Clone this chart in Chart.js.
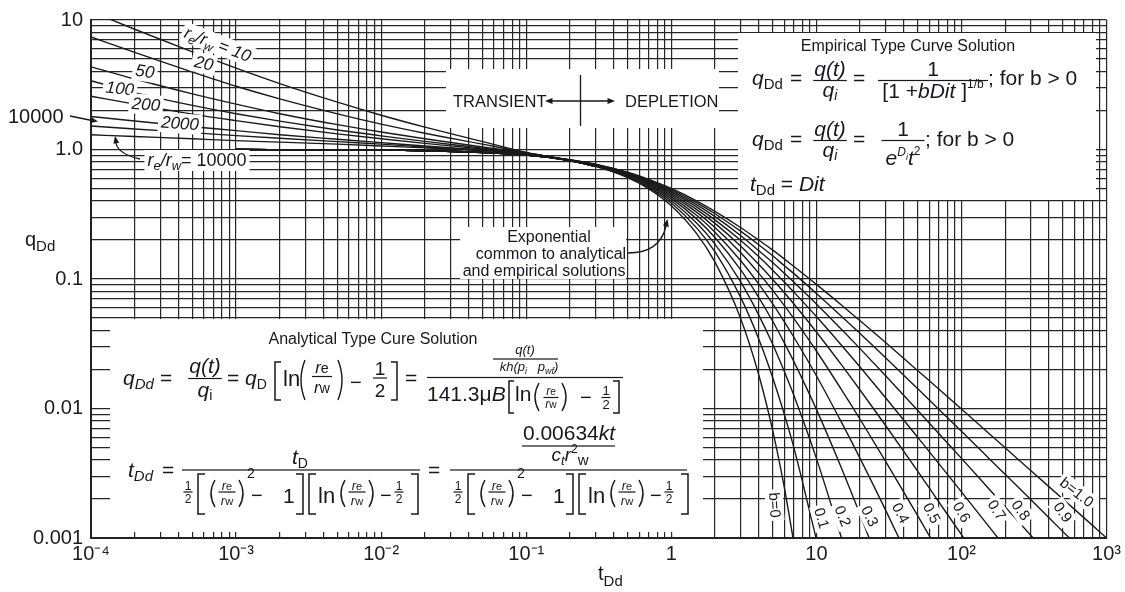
<!DOCTYPE html>
<html>
<head>
<meta charset="utf-8">
<title>Decline type curves</title>
<script src="https://cdn.jsdelivr.net/npm/chart.js@4.4.1/dist/chart.umd.min.js"></script>
<style>
  html, body { margin: 0; padding: 0; background: #fff; }
  canvas { display: block; }
</style>
</head>
<body>
<canvas id="chart" width="1125" height="592"></canvas>
<script>
// ===== AXES =====
const xTickValues = [1e-4, 1e-3, 1e-2, 1e-1, 1, 10, 100, 1000];
const xTickLabels = ["10⁻⁴", "10⁻³", "10⁻²", "10⁻¹", "1", "10", "10²", "10³"];
const yTickValues = [0.001, 0.01, 0.1, 1, 10];
const yTickLabels = ["0.001", "0.01", "0.1", "1.0", "10"];

// ===== ANALYTICAL (TRANSIENT) STEMS — one per re/rw =====
const tTransient = [1e-4, 2e-4, 5e-4, 1e-3, 2e-3, 5e-3, 0.01, 0.02, 0.05, 0.1, 0.2, 0.3];
const qRe10    = [11.65, 8.48, 5.68, 4.25, 3.23, 2.32, 1.84, 1.49, 1.15, 0.95, 0.825, 0.744];
const qRe20    = [7.4, 5.62, 3.96, 3.08, 2.46, 1.885, 1.57, 1.335, 1.10, 0.945, 0.824, 0.744];
const qRe50    = [4.35, 3.5, 2.69, 2.24, 1.89, 1.555, 1.365, 1.21, 1.045, 0.94, 0.823, 0.743];
const qRe100   = [3.40, 2.75, 2.19, 1.89, 1.655, 1.415, 1.275, 1.155, 1.025, 0.935, 0.822, 0.743];
const qRe200   = [2.58, 2.24, 1.875, 1.67, 1.50, 1.32, 1.21, 1.115, 1.01, 0.93, 0.821, 0.742];
const qRe1000  = [1.80, 1.66, 1.50, 1.40, 1.30, 1.20, 1.13, 1.065, 0.99, 0.928, 0.82, 0.742];
const qRe2000  = [1.52, 1.44, 1.35, 1.28, 1.22, 1.15, 1.10, 1.045, 0.985, 0.925, 0.82, 0.742];
const qRe10000 = [1.30, 1.26, 1.21, 1.17, 1.14, 1.10, 1.065, 1.03, 0.98, 0.922, 0.82, 0.742];

// ===== EMPIRICAL STEMS — one per b =====
const tEmpirical = [0.001, 0.01, 0.1, 0.2, 0.3, 0.5, 0.7, 1, 1.5, 2, 3, 4, 5, 6, 7, 10, 15, 20, 30, 50, 70, 100, 150, 200, 300, 500, 700, 1000];
const qB00 = [0.999, 0.990, 0.905, 0.819, 0.741, 0.607, 0.497, 0.368, 0.223, 0.135, 0.0498, 0.0183, 0.00674, 0.00248, 0.000912, null, null, null, null, null, null, null, null, null, null, null, null, null];
const qB01 = [0.999, 0.990, 0.905, 0.820, 0.744, 0.614, 0.508, 0.386, 0.247, 0.162, 0.0725, 0.0346, 0.0173, 0.00909, 0.00496, 0.000977, null, null, null, null, null, null, null, null, null, null, null, null];
const qB02 = [0.999, 0.990, 0.906, 0.822, 0.747, 0.621, 0.519, 0.402, 0.269, 0.186, 0.0954, 0.0529, 0.0313, 0.0194, 0.0126, 0.00412, 0.000977, null, null, null, null, null, null, null, null, null, null, null];
const qB03 = [0.999, 0.990, 0.906, 0.824, 0.750, 0.628, 0.530, 0.417, 0.290, 0.209, 0.118, 0.0722, 0.0472, 0.0323, 0.0230, 0.00984, 0.00340, 0.00152, 0.000464, null, null, null, null, null, null, null, null, null];
const qB04 = [0.999, 0.990, 0.907, 0.825, 0.753, 0.634, 0.540, 0.431, 0.309, 0.230, 0.139, 0.0917, 0.0642, 0.0469, 0.0355, 0.0179, 0.0077, 0.00412, 0.00164, 0.000494, null, null, null, null, null, null, null, null];
const qB05 = [0.999, 0.990, 0.907, 0.826, 0.756, 0.640, 0.549, 0.444, 0.327, 0.250, 0.160, 0.111, 0.0816, 0.0625, 0.0494, 0.0278, 0.0138, 0.00826, 0.00390, 0.00148, 0.000772, null, null, null, null, null, null, null];
const qB06 = [0.999, 0.990, 0.908, 0.828, 0.759, 0.646, 0.557, 0.457, 0.343, 0.269, 0.180, 0.130, 0.0992, 0.0786, 0.0641, 0.0390, 0.0215, 0.0139, 0.00739, 0.00327, 0.00189, 0.00106, 0.00054, null, null, null, null, null];
const qB07 = [0.999, 0.990, 0.908, 0.829, 0.762, 0.651, 0.566, 0.469, 0.359, 0.286, 0.199, 0.149, 0.117, 0.0949, 0.0792, 0.0513, 0.0305, 0.0209, 0.0121, 0.00598, 0.00374, 0.00227, 0.00128, 0.00085, null, null, null, null];
const qB08 = [0.999, 0.990, 0.908, 0.831, 0.764, 0.657, 0.574, 0.480, 0.373, 0.303, 0.217, 0.166, 0.134, 0.111, 0.0945, 0.0642, 0.0405, 0.0290, 0.0179, 0.00964, 0.00638, 0.00412, 0.00249, 0.00174, 0.00105, 0.000557, null, null];
const qB09 = [0.999, 0.990, 0.909, 0.832, 0.767, 0.662, 0.581, 0.490, 0.387, 0.319, 0.234, 0.184, 0.151, 0.127, 0.110, 0.0774, 0.0512, 0.0380, 0.0247, 0.0142, 0.00984, 0.00666, 0.00426, 0.00310, 0.00198, 0.00112, 0.000773, null];
const qB10 = [0.999, 0.990, 0.909, 0.833, 0.769, 0.667, 0.588, 0.500, 0.400, 0.333, 0.250, 0.200, 0.167, 0.143, 0.125, 0.0909, 0.0625, 0.0476, 0.0323, 0.0196, 0.0141, 0.00990, 0.00662, 0.00498, 0.00332, 0.00200, 0.00143, 0.00100];

// ===== STYLE =====
const FONT = "'Liberation Sans', Arial, Helvetica, sans-serif";
const INK  = "#17171f";
const GRID = "#262626";

// white panels that hide the grid (x1, y1, x2, y2 in canvas px)
const panels = [
  [446, 69, 719, 128],    // transient / depletion
  [738, 33, 1096, 200],   // empirical solution
  [110, 319, 703, 532],   // analytical solution
  [460, 227, 626, 279]    // exponential note
];

// ===== HELPERS =====
function gridValues(e0, e1) {
  const out = [];
  for (let e = e0; e < e1; e++) {
    for (let k = 1; k < 10; k++) out.push(+(k * Math.pow(10, e)).toPrecision(3));
  }
  out.push(Math.pow(10, e1));
  return out;
}

function labelFor(v, values, labels) {
  const i = values.findIndex(t => Math.abs(Math.log10(t) - Math.log10(v)) < 1e-6);
  return i >= 0 ? labels[i] : "";
}

function font(ctx, size, italic) {
  ctx.font = `${italic ? "italic " : ""}${size}px ${FONT}`;
}

// parts: [text, size, italic, dy]
function rich(ctx, parts, x, y) {
  for (const [s, size, italic, dy] of parts) {
    font(ctx, size, italic);
    ctx.fillText(s, x, y + (dy || 0));
    x += ctx.measureText(s).width;
  }
  return x;
}

function richWidth(ctx, parts) {
  let w = 0;
  for (const [s, size, italic] of parts) {
    font(ctx, size, italic);
    w += ctx.measureText(s).width;
  }
  return w;
}

function richC(ctx, parts, cx, y) {
  rich(ctx, parts, cx - richWidth(ctx, parts) / 2, y);
}

function frac(ctx, num, den, cx, yBar, up, down, w) {
  richC(ctx, num, cx, yBar - up);
  richC(ctx, den, cx, yBar + down);
  const bw = w || Math.max(richWidth(ctx, num), richWidth(ctx, den)) + 2;
  ctx.fillRect(cx - bw / 2, yBar - 0.6, bw, 1.2);
}

function bracket(ctx, xv, xa, y1, y2) {
  ctx.beginPath();
  ctx.moveTo(xa, y1); ctx.lineTo(xv, y1); ctx.lineTo(xv, y2); ctx.lineTo(xa, y2);
  ctx.lineWidth = 1.5;
  ctx.stroke();
}

function paren(ctx, x, y1, y2, dir) {
  ctx.beginPath();
  ctx.moveTo(x + 5 * dir, y1);
  ctx.quadraticCurveTo(x - 3 * dir, (y1 + y2) / 2, x + 5 * dir, y2);
  ctx.lineWidth = 1.4;
  ctx.stroke();
}

function arrowHead(ctx, x, y, ang, len) {
  len = len || 7;
  ctx.beginPath();
  ctx.moveTo(x, y);
  ctx.lineTo(x - len * Math.cos(ang - 0.38), y - len * Math.sin(ang - 0.38));
  ctx.lineTo(x - len * Math.cos(ang + 0.38), y - len * Math.sin(ang + 0.38));
  ctx.closePath();
  ctx.fill();
}

// label on a white patch, optionally rotated
function tag(ctx, parts, cx, cy, deg) {
  const w = richWidth(ctx, parts);
  const h = Math.max(...parts.map(p => p[1]));
  ctx.save();
  ctx.translate(cx, cy);
  ctx.rotate(deg * Math.PI / 180);
  ctx.fillStyle = "#fff";
  ctx.fillRect(-w / 2 - 3, -h / 2 - 1, w + 6, h + 3);
  ctx.fillStyle = INK;
  rich(ctx, parts, -w / 2, h * 0.35);
  ctx.restore();
}

const RE = s => [["r", s, true], ["e", s * 0.85, false]];
const RW = s => [["r", s, true], ["w", s * 0.85, false]];

// ½[(re/rw)² − 1][ln(re/rw) − ½]
function denomRow(ctx, x0, base) {
  const m = base - 11;
  frac(ctx, [["1", 12]], [["2", 12]], x0 + 6, m, 2, 11, 9);
  bracket(ctx, x0 + 16, x0 + 23, base - 29, base + 11);
  paren(ctx, x0 + 28, base - 23, base + 4, 1);
  frac(ctx, RE(13), RW(13), x0 + 45, m, 2, 13, 17);
  paren(ctx, x0 + 62, base - 23, base + 4, -1);
  rich(ctx, [["2", 14]], x0 + 65, base - 25);
  rich(ctx, [["−", 20]], x0 + 69, base - 1);
  rich(ctx, [["1", 21]], x0 + 101, base);
  bracket(ctx, x0 + 121, x0 + 114, base - 29, base + 11);
  bracket(ctx, x0 + 127, x0 + 134, base - 29, base + 11);
  rich(ctx, [["ln", 22]], x0 + 136, base);
  paren(ctx, x0 + 158, base - 23, base + 4, 1);
  frac(ctx, RE(13), RW(13), x0 + 175, m, 2, 13, 17);
  paren(ctx, x0 + 192, base - 23, base + 4, -1);
  rich(ctx, [["−", 20]], x0 + 198, base - 1);
  frac(ctx, [["1", 12]], [["2", 12]], x0 + 217, m, 2, 11, 9);
  bracket(ctx, x0 + 236, x0 + 229, base - 29, base + 11);
}

// ===== DECORATION =====
function drawStemLabels(ctx) {
  tag(ctx, [["r", 17, true], ["e", 12, true, 4], ["/r", 17, true], ["w", 12, true, 4], [" = 10", 17, true]], 218, 44, 21);
  tag(ctx, [["20", 17, true]], 204, 63, 12);
  tag(ctx, [["50", 17, true]], 145, 71, 8);
  tag(ctx, [["100", 17, true]], 120, 88, 6);
  tag(ctx, [["200", 17, true]], 146, 104, 5);
  tag(ctx, [["2000", 17, true]], 180, 123, 4);
  tag(ctx, [["r", 18, true], ["e", 13, true, 4], ["/r", 18, true], ["w", 13, true, 4], ["= 10000", 18, false]], 197, 160, 0);

  const bTags = [
    ["b=0", 775, 505, 86], ["0.1", 822, 518, 74], ["0.2", 843, 516, 68], ["0.3", 870, 516, 64],
    ["0.4", 901, 513, 62], ["0.5", 932, 513, 62], ["0.6", 962, 512, 60], ["0.7", 997, 510, 57],
    ["0.8", 1021, 510, 55], ["0.9", 1063, 512, 55], ["b=1.0", 1077, 492, 38]
  ];
  bTags.forEach(([s, x, y, a]) => tag(ctx, [[s, 15, false]], x, y, a));
}

function drawTransientBox(ctx) {
  font(ctx, 16.5);
  ctx.fillText("TRANSIENT", 453, 107);
  ctx.fillText("DEPLETION", 625, 107);
  ctx.lineWidth = 1.3;
  ctx.beginPath();
  ctx.moveTo(580.5, 75); ctx.lineTo(580.5, 126);
  ctx.moveTo(552, 101); ctx.lineTo(608, 101);
  ctx.stroke();
  arrowHead(ctx, 545, 101, Math.PI, 8);
  arrowHead(ctx, 615, 101, 0, 8);
}

function drawEmpiricalBox(ctx) {
  font(ctx, 16);
  ctx.textAlign = "center";
  ctx.fillText("Empirical Type Curve Solution", 908, 51);
  ctx.textAlign = "left";

  const QDD = [["q", 21, true], ["Dd", 15, false, 4]];
  const QI  = [["q", 21, true], ["i", 14, true, 3]];

  rich(ctx, QDD, 752, 85);
  rich(ctx, [["=", 21]], 790, 85);
  frac(ctx, [["q(t)", 21, true]], QI, 830, 80.5, 5, 16);
  rich(ctx, [["=", 21]], 853, 85);
  frac(ctx, [["1", 21]], [["[1 +", 21], ["bDit", 21, true], [" ]", 21], ["1/b", 12, false, -10]], 933, 80.5, 5, 17, 110);
  rich(ctx, [["; for b > 0", 21]], 988, 85);

  rich(ctx, QDD, 752, 146);
  rich(ctx, [["=", 21]], 790, 146);
  frac(ctx, [["q(t)", 21, true]], QI, 830, 140.5, 5, 16);
  rich(ctx, [["=", 21]], 853, 146);
  frac(ctx, [["1", 21]], [["e", 21, true], ["D", 12, true, -9], ["i", 9, true, -5], ["t", 21, true], ["2", 12, false, -10]], 903, 140.5, 5, 24, 43);
  rich(ctx, [["; for b > 0", 21]], 925, 146);

  rich(ctx, [["t", 21, true], ["Dd", 15, false, 4], [" = ", 21], ["Dit", 21, true]], 750, 191);
}

function drawAnalyticalBox(ctx) {
  font(ctx, 16);
  ctx.textAlign = "center";
  ctx.fillText("Analytical Type Cure Solution", 373, 344);
  ctx.textAlign = "left";

  // q_Dd line
  rich(ctx, [["q", 21, true], ["Dd", 15, true, 4]], 123, 385);
  rich(ctx, [["=", 21]], 160, 385);
  frac(ctx, [["q(t)", 21, true]], [["q", 21, true], ["i", 14, false, 3]], 205, 378.5, 6, 18);
  rich(ctx, [["= ", 21], ["q", 21, true], ["D", 14, false, 4]], 227, 385);
  bracket(ctx, 275, 281, 362, 400);
  rich(ctx, [["ln", 22]], 283, 386);
  paren(ctx, 300, 360, 400, 1);
  frac(ctx, RE(17), RW(17), 322, 376.5, 3.5, 16.5, 20);
  paren(ctx, 343, 360, 400, -1);
  rich(ctx, [["−", 20]], 350, 389);
  frac(ctx, [["1", 19]], [["2", 19]], 380, 378, 3, 19, 14);
  bracket(ctx, 397, 391, 362, 400);
  rich(ctx, [["=", 21]], 405, 385);

  richC(ctx, [["q(t)", 13, true]], 525, 354);
  ctx.fillRect(493, 358.4, 65, 1.2);
  richC(ctx, [["kh(p", 13, true], ["i", 9, true, 3], ["   p", 13, true], ["wf", 9, true, 3], [")", 13, true]], 529, 371);
  ctx.fillRect(427, 376.9, 196, 1.2);
  rich(ctx, [["141.3μ", 21], ["B", 21, true]], 427, 401);
  bracket(ctx, 509, 514, 381, 413);
  rich(ctx, [["ln", 21]], 515, 401);
  paren(ctx, 534, 383, 411, 1);
  frac(ctx, RE(12), RW(12), 551, 397.5, 2.5, 10.5, 15);
  paren(ctx, 567, 383, 411, -1);
  rich(ctx, [["−", 20]], 580, 404);
  frac(ctx, [["1", 13]], [["2", 13]], 606, 397.5, 2.5, 11.5, 9);
  bracket(ctx, 619, 613, 381, 413);

  // t_Dd line
  rich(ctx, [["t", 21, true], ["Dd", 15, true, 4]], 128, 477);
  rich(ctx, [["=", 21]], 162, 477);
  richC(ctx, [["t", 21, true], ["D", 14, false, 4]], 300, 464);
  ctx.fillRect(182, 469.4, 238, 1.2);
  denomRow(ctx, 182, 503);
  rich(ctx, [["=", 21]], 428, 477);
  richC(ctx, [["0.00634", 21], ["kt", 21, true]], 569, 440);
  ctx.fillRect(522, 445.4, 93, 1.2);
  richC(ctx, [["c", 19, true], ["t", 13, true, 4], ["r", 19, true], ["2", 12, false, -8], ["w", 15, false, 4]], 570, 461);
  ctx.fillRect(450, 469.4, 237, 1.2);
  denomRow(ctx, 452, 503);
}

function drawNotes(ctx) {
  // exponential note
  font(ctx, 16);
  ctx.textAlign = "center";
  ctx.fillText("Exponential", 549, 242);
  ctx.fillText("common to analytical", 551, 259);
  ctx.fillText("and empirical solutions", 544, 276);
  ctx.textAlign = "left";
  ctx.lineWidth = 1.3;
  ctx.beginPath();
  ctx.moveTo(628, 253);
  ctx.quadraticCurveTo(660, 253, 666, 226);
  ctx.stroke();
  arrowHead(ctx, 667.5, 219, -1.35, 8);

  // re/rw = 10000 pointers
  font(ctx, 20);
  ctx.fillText("10000", 8, 123);
  ctx.beginPath();
  ctx.moveTo(70, 116); ctx.lineTo(92, 120.5);
  ctx.moveTo(140, 159); ctx.quadraticCurveTo(118, 154, 116, 143);
  ctx.stroke();
  arrowHead(ctx, 98, 121.5, 0.2, 8);
  arrowHead(ctx, 115, 136, -1.75, 8);

  // axis titles
  rich(ctx, [["q", 20], ["Dd", 15, false, 5]], 25, 246);
  rich(ctx, [["t", 20], ["Dd", 15, false, 6]], 598, 580);
}

const decor = {
  id: "decor",
  beforeDatasetsDraw(chart) {
    const ctx = chart.ctx;
    ctx.save();
    ctx.fillStyle = "#fff";
    panels.forEach(([x1, y1, x2, y2]) => ctx.fillRect(x1, y1, x2 - x1, y2 - y1));
    ctx.restore();
  },
  afterDatasetsDraw(chart) {
    const ctx = chart.ctx;
    ctx.save();
    ctx.fillStyle = INK;
    ctx.strokeStyle = INK;
    ctx.textAlign = "left";
    ctx.textBaseline = "alphabetic";
    drawStemLabels(ctx);
    drawTransientBox(ctx);
    drawEmpiricalBox(ctx);
    drawAnalyticalBox(ctx);
    drawNotes(ctx);
    ctx.restore();
  }
};

// ===== DATASETS =====
const stems = [
  [tTransient, qRe10], [tTransient, qRe20], [tTransient, qRe50], [tTransient, qRe100],
  [tTransient, qRe200], [tTransient, qRe1000], [tTransient, qRe2000], [tTransient, qRe10000],
  [tEmpirical, qB00], [tEmpirical, qB01], [tEmpirical, qB02], [tEmpirical, qB03],
  [tEmpirical, qB04], [tEmpirical, qB05], [tEmpirical, qB06], [tEmpirical, qB07],
  [tEmpirical, qB08], [tEmpirical, qB09], [tEmpirical, qB10]
];

const datasets = stems.map(([t, q]) => ({
  data: t.map((x, i) => ({ x, y: q[i] })).filter(p => p.y !== null),
  borderColor: "#1a1a1a",
  borderWidth: 1.4,
  pointRadius: 0,
  fill: false,
  cubicInterpolationMode: "monotone"
}));

// ===== CHART =====
new Chart(document.getElementById("chart"), {
  type: "line",
  data: { datasets },
  options: {
    responsive: false,
    animation: false,
    devicePixelRatio: 1,
    layout: { padding: { left: 0, right: 13, top: 17, bottom: 0 } },
    plugins: { legend: { display: false }, tooltip: { enabled: false } },
    scales: {
      x: {
        type: "logarithmic",
        min: 1e-4,
        max: 1000,
        afterBuildTicks: s => { s.ticks = gridValues(-4, 3).map(value => ({ value })); },
        afterFit: s => { s.height = 54; },
        grid: { color: GRID, lineWidth: 1.2, drawTicks: false },
        border: { color: "#222", width: 2 },
        ticks: {
          autoSkip: false, maxRotation: 0, padding: 4, color: "#1c1c1c",
          font: { family: FONT, size: 20 },
          callback: v => labelFor(v, xTickValues, xTickLabels)
        }
      },
      y: {
        type: "logarithmic",
        min: 0.001,
        max: 10,
        afterBuildTicks: s => { s.ticks = gridValues(-3, 1).map(value => ({ value })); },
        afterFit: s => { s.width = 91; },
        grid: { color: GRID, lineWidth: 1.2, drawTicks: false },
        border: { color: "#222", width: 2 },
        ticks: {
          autoSkip: false, padding: 8, color: "#1c1c1c",
          font: { family: FONT, size: 20 },
          callback: v => labelFor(v, yTickValues, yTickLabels)
        }
      }
    }
  },
  plugins: [decor]
});
</script>
</body>
</html>
